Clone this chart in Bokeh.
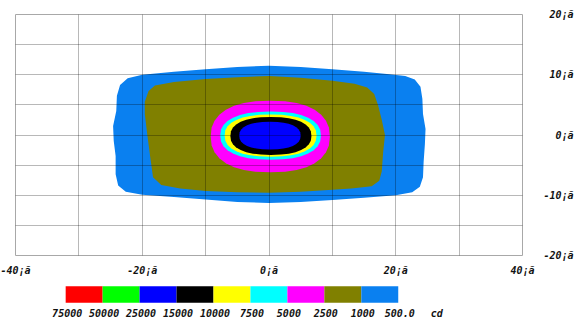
import numpy as np
from bokeh.plotting import figure
from bokeh.models import Range1d, LinearAxis, FixedTicker, Grid, ColumnDataSource
from bokeh.layouts import column
from bokeh.embed import file_html
from bokeh.resources import INLINE
from bokeh.core.properties import value

# ---------------- data ----------------
x_ticks = [-40, -20, 0, 20, 40]
x_tick_labels = ["-40¡ã", "-20¡ã", "0¡ã", "20¡ã", "40¡ã"]
y_ticks = [20, 10, 0, -10, -20]
y_tick_labels = ["20¡ã", "10¡ã", "0¡ã", "-10¡ã", "-20¡ã"]
x_grid = [-40, -30, -20, -10, 0, 10, 20, 30, 40]
y_grid = [-20, -15, -10, -5, 0, 5, 10, 15, 20]

legend_labels = ["75000", "50000", "25000", "15000", "10000",
                 "7500", "5000", "2500", "1000", "500.0"]
legend_unit = "cd"
legend_colors = ["#ff0000", "#00ff00", "#0000ff", "#000000", "#ffff00",
                 "#00ffff", "#ff00ff", "#808000", "#0a80f0"]

# 500 cd isocandela outline (degrees)
c500_x = [0, 5, 10, 15, 19, 21.5, 23.0, 23.9, 24.2, 24.3, 24.7, 24.6, 24.4, 24.3,
          23.8, 22.6, 20.0, 15, 10, 5, 0, -5, -10, -15, -20, -22.6, -23.8, -24.2,
          -24.2, -24.5, -24.6, -24.1, -24.0, -23.5, -22.3, -20, -15, -10, -5]
c500_y = [11.5, 11.3, 10.9, 10.5, 10.1, 9.8, 9.2, 8.0, 6.0, 3.5, 1.0, -1.5, -4.5, -7.0,
          -8.6, -9.5, -10.0, -10.4, -10.8, -11.1, -11.3, -11.1, -10.7, -10.3, -9.9, -9.4,
          -8.4, -6.5, -3.5, -1.0, 1.5, 4.0, 6.5, 8.3, 9.4, 10.0, 10.5, 10.9, 11.3]

# 1000 cd isocandela outline (degrees)
c1000_x = [0, 5, 10, 13.5, 15.5, 16.6, 17.2, 17.8, 18.3, 18.0, 17.8, 17.4, 16.2, 13,
           10, 5, 0, -5, -10, -14, -17.0, -18.3, -18.7, -19.2, -19.6, -19.6, -19.0,
           -18.0, -15, -10, -5]
c1000_y = [9.8, 9.5, 9.0, 8.5, 7.9, 6.8, 5.0, 2.5, 0.0, -3.0, -6.0, -7.6, -8.5, -8.9,
           -9.1, -9.4, -9.6, -9.5, -9.3, -8.9, -8.3, -7.0, -4.0, 0.0, 3.5, 5.5, 7.3,
           8.2, 8.8, 9.3, 9.6]

# inner isocandela extents (degrees)
inner_levels = ["2500", "5000", "7500", "10000", "15000"]
inner_left = [-9.2, -7.7, -7.0, -6.1, -4.7]
inner_right = [9.6, 8.2, 7.5, 6.7, 5.0]
inner_bottom = [-6.2, -4.1, -3.6, -3.3, -2.4]
inner_top = [5.7, 3.9, 3.4, 3.0, 2.2]
inner_colors = ["#ff00ff", "#00ffff", "#ffff00", "#000000", "#0000ff"]

# rounded (superellipse-like) unit outline used for the inner contours
q_ux = [1.0, 0.984, 0.935, 0.855, 0.745, 0.607, 0.442, 0.249, 0.0]
q_uy = [0.0, 0.249, 0.442, 0.607, 0.745, 0.855, 0.935, 0.984, 1.0]

FONT = "DejaVu Sans Mono"

# ---------------- main plot ----------------
p = figure(width=579, height=278, x_range=Range1d(-40, 40), y_range=Range1d(-20, 20),
           x_axis_type=None, y_axis_type=None, toolbar_location=None,
           output_backend="svg", min_border_left=15, min_border_right=57,
           min_border_top=14, min_border_bottom=20)
p.outline_line_color = "#a8a8a8"
p.background_fill_color = "white"
p.border_fill_color = "white"

p.patch(c500_x, c500_y, fill_color=legend_colors[8], line_color=None)
p.patch(c1000_x, c1000_y, fill_color=legend_colors[7], line_color=None)

ux = np.array(q_ux + [-v for v in q_ux[::-1][1:]] + [-v for v in q_ux[1:]] + q_ux[::-1][1:-1])
uy = np.array(q_uy + q_uy[::-1][1:] + [-v for v in q_uy[1:]] + [-v for v in q_uy[::-1][1:-1]])
for l, r, b, t, c in zip(inner_left, inner_right, inner_bottom, inner_top, inner_colors):
    cx, hw = (l + r) / 2, (r - l) / 2
    cy, hh = (b + t) / 2, (t - b) / 2
    p.patch(list(cx + hw * ux), list(cy + hh * uy), fill_color=c, line_color=None)

p.add_layout(Grid(dimension=0, ticker=FixedTicker(ticks=x_grid), grid_line_color="black",
                  grid_line_alpha=0.28, level="annotation"))
p.add_layout(Grid(dimension=1, ticker=FixedTicker(ticks=y_grid), grid_line_color="black",
                  grid_line_alpha=0.28, level="annotation"))

axis_style = dict(axis_line_color=None, major_tick_line_color=None,
                  minor_tick_line_color=None, major_label_text_font=FONT,
                  major_label_text_font_style="bold italic",
                  major_label_text_font_size="10px", major_label_text_color="#111111")
xa = LinearAxis(ticker=FixedTicker(ticks=x_ticks),
                major_label_overrides=dict(zip(x_ticks, x_tick_labels)),
                major_label_standoff=3, **axis_style)
ya = LinearAxis(ticker=FixedTicker(ticks=y_ticks),
                major_label_overrides={k: v.rjust(5, "\u00a0") for k, v in zip(y_ticks, y_tick_labels)},
                major_label_standoff=15, **axis_style)
p.add_layout(xa, "below")
p.add_layout(ya, "right")

# ---------------- colour legend ----------------
BOX0, BOXW = 57.3, 42.2
q = figure(width=579, height=51, x_range=Range1d(-BOX0 / BOXW, (579 - BOX0) / BOXW),
           y_range=Range1d(51, 0), x_axis_type=None, y_axis_type=None,
           toolbar_location=None, output_backend="svg", min_border=0)
q.outline_line_color = None
q.background_fill_color = "white"
q.border_fill_color = "white"
idx = list(range(len(legend_colors)))
q.quad(left=idx, right=[i + 1 for i in idx], top=7.7, bottom=24.3,
       fill_color=legend_colors, line_color=None)
lab_src = ColumnDataSource(dict(x=list(range(len(legend_labels) + 1)),
                                text=legend_labels + [legend_unit]))
q.text(x="x", y=34.7, text="text", source=lab_src, text_align="center",
       text_baseline="middle", x_offset=1.5, text_font=value(FONT),
       text_font_style="bold italic", text_font_size="10px", text_color="#111111")

layout = column(p, q, spacing=0)

open("out.html", "w").write(file_html(layout, INLINE))
